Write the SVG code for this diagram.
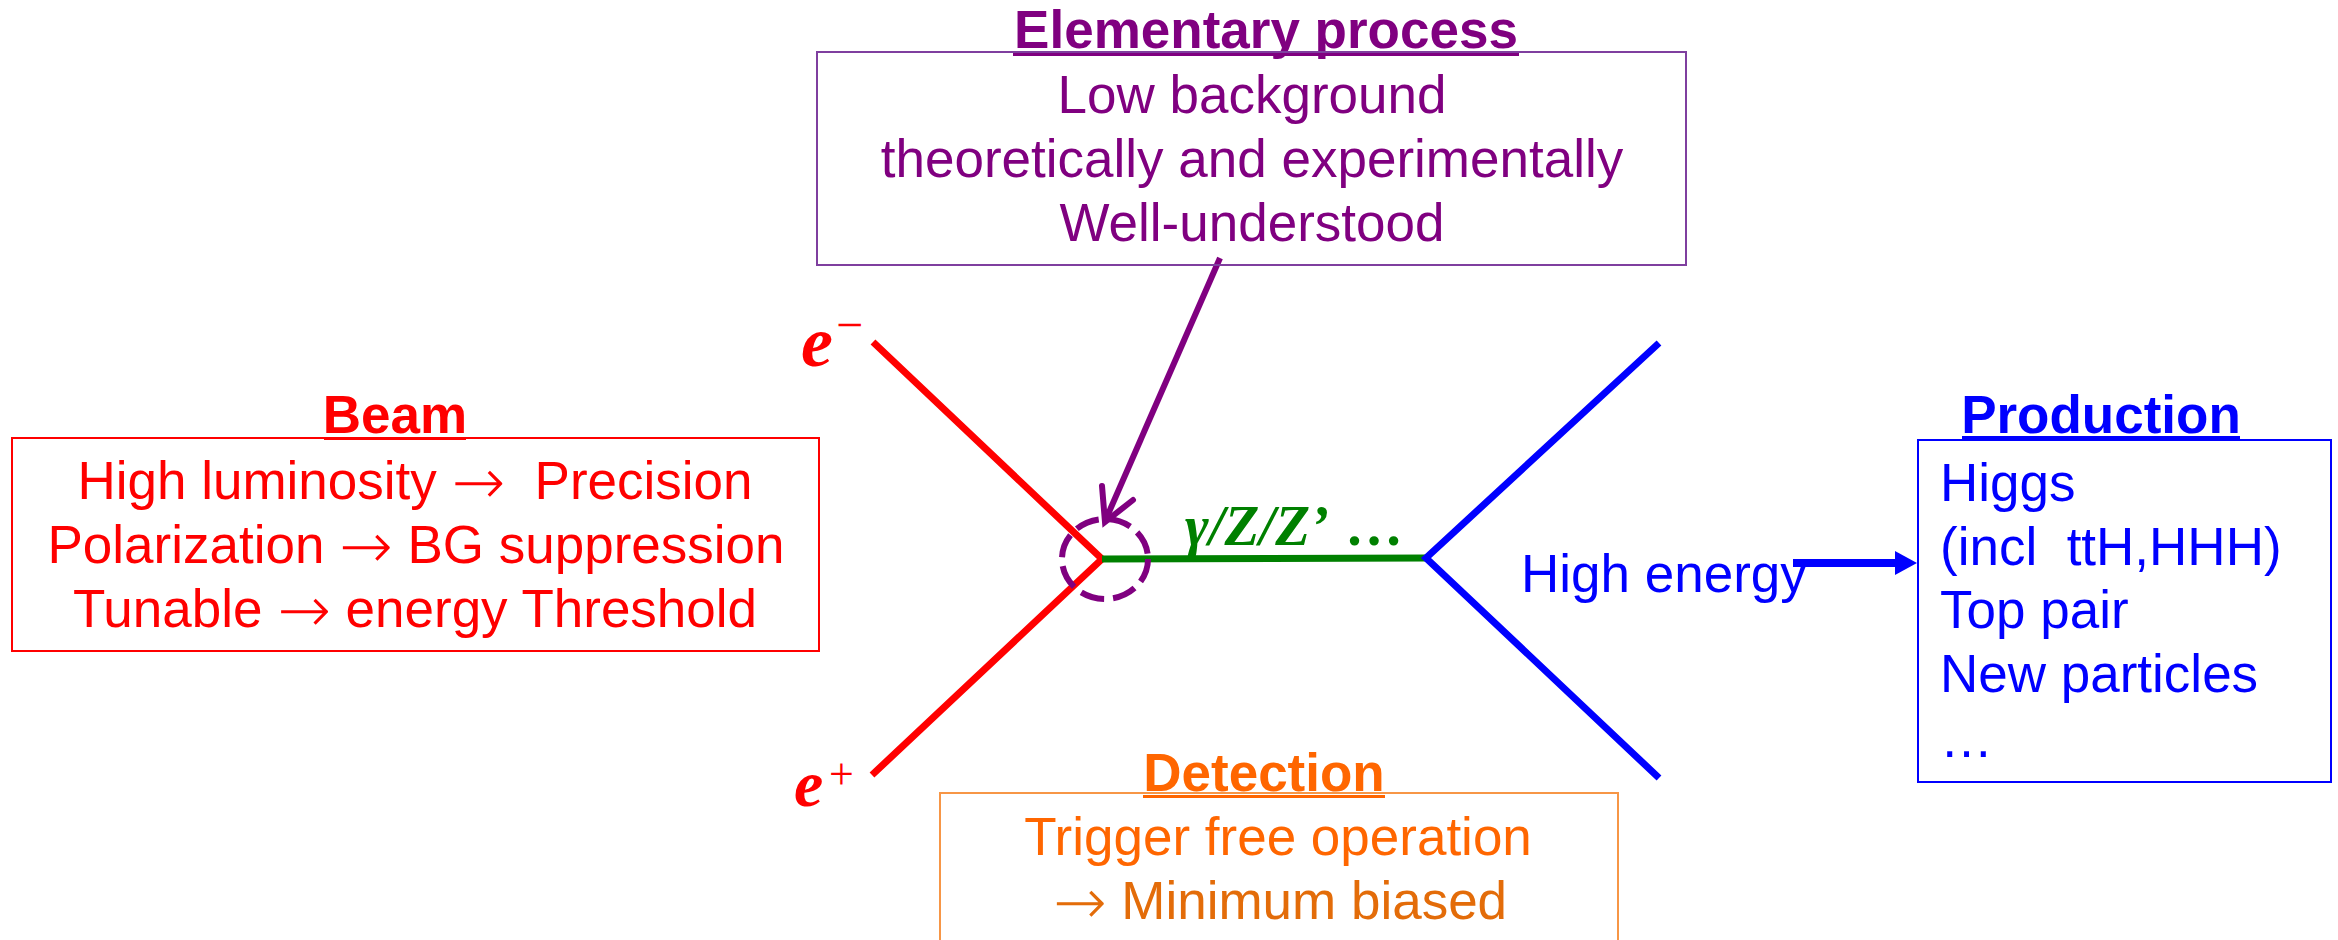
<svg xmlns="http://www.w3.org/2000/svg" width="2338" height="940" viewBox="0 0 2338 940">
<style>
.sans{font-family:"Liberation Sans",Arial,sans-serif;}
.serif{font-family:"Liberation Serif","Times New Roman",serif;}
.title{font-weight:bold;font-size:53px;text-anchor:middle;}
.body{font-size:53px;}
.mid{text-anchor:middle;}
.box{fill:none;stroke-width:2;}
.arr{font-family:"DejaVu Sans",sans-serif;font-weight:200;font-size:64px;}
</style>
<rect width="2338" height="940" fill="#ffffff"/>
<g id="connectors" fill="none" stroke-linejoin="miter">
  <polyline id="electron-lines" points="873,342 1102,559 872,775" stroke="#FF0000" stroke-width="7"/>
  <line id="boson-line" x1="1102" y1="559" x2="1426" y2="558" stroke="#008000" stroke-width="7"/>
  <polyline id="final-lines" points="1659,343 1426,558 1659,778" stroke="#0000FF" stroke-width="7"/>
  <ellipse id="vertex-circle" cx="1105" cy="559" rx="43" ry="40" stroke="#800080" stroke-width="6" stroke-dasharray="24 9"/>
  <line id="process-arrow" x1="1220" y1="258" x2="1106" y2="519" stroke="#800080" stroke-width="6"/>
  <polyline points="1102,486 1105,522 1133,500" stroke="#800080" stroke-width="6" stroke-linecap="round"/>
  <line id="energy-arrow" x1="1793" y1="563" x2="1896" y2="563" stroke="#0000FF" stroke-width="8"/>
  <polygon points="1895,551 1917,563 1895,575" fill="#0000FF" stroke="none"/>
</g>
<g id="label-eminus" fill="#FF0000">
  <text class="serif" x="801" y="366" font-size="72" font-weight="bold" font-style="italic">e</text>
  <text class="serif" x="836" y="341" font-size="48">−</text>
</g>
<g id="label-eplus" fill="#FF0000">
  <text class="serif" x="794" y="806" font-size="66" font-weight="bold" font-style="italic">e</text>
  <text class="serif" x="829" y="789" font-size="44">+</text>
</g>
<g id="label-boson" fill="#008000" font-weight="bold">
  <text class="serif" x="1185" y="545" font-size="57" font-style="italic">γ/Z/Z’</text>
  <text class="serif" x="1345" y="545" font-size="58">…</text>
</g>
<g id="elementary" fill="#800080">
  <text class="sans title" x="1266" y="48">Elementary process</text>
  <rect x="1013" y="53" width="506" height="3"/>
  <rect class="box" x="817" y="52" width="869" height="213" stroke="#7F3F9F"/>
  <text class="sans body mid" x="1252" y="113">Low background</text>
  <text class="sans body mid" x="1252" y="177">theoretically and experimentally</text>
  <text class="sans body mid" x="1252" y="241">Well-understood</text>
</g>
<g id="beam" fill="#FF0000">
  <text class="sans title" x="395" y="433">Beam</text>
  <rect x="324" y="437" width="142" height="3"/>
  <rect class="box" x="12" y="438" width="807" height="213" stroke="#FF0000"/>
  <text class="sans body mid" x="415" y="499" xml:space="preserve">High luminosity <tspan class="arr" dy="5">→</tspan><tspan dy="-5">  Precision</tspan></text>
  <text class="sans body mid" x="416" y="563">Polarization <tspan class="arr" dy="5">→</tspan><tspan dy="-5"> BG suppression</tspan></text>
  <text class="sans body mid" x="415" y="627">Tunable <tspan class="arr" dy="5">→</tspan><tspan dy="-5"> energy Threshold</tspan></text>
</g>
<g id="production" fill="#0000FF">
  <text class="sans title" x="2101" y="433">Production</text>
  <rect x="1962" y="436" width="278" height="3"/>
  <rect class="box" x="1918" y="440" width="413" height="342" stroke="#0000FF"/>
  <text class="sans body" x="1940" y="501">Higgs</text>
  <text class="sans body" x="1940" y="565" xml:space="preserve">(incl  ttH,HHH)</text>
  <text class="sans body" x="1940" y="628">Top pair</text>
  <text class="sans body" x="1940" y="692">New particles</text>
  <text class="sans body" x="1940" y="757">…</text>
</g>
<g id="high-energy" fill="#0000FF">
  <text class="sans body" x="1521" y="592">High energy</text>
</g>
<g id="detection" fill="#FF6600">
  <text class="sans title" x="1264" y="791">Detection</text>
  <rect x="1143" y="795" width="242" height="3"/>
  <rect class="box" x="940" y="793" width="678" height="170" stroke="#F79646"/>
  <text class="sans body mid" x="1278" y="855">Trigger free operation</text>
  <text class="sans body mid" x="1280" y="919" fill="#E36C09"><tspan class="arr" dy="5">→</tspan><tspan dy="-5"> Minimum biased</tspan></text>
</g>
</svg>
